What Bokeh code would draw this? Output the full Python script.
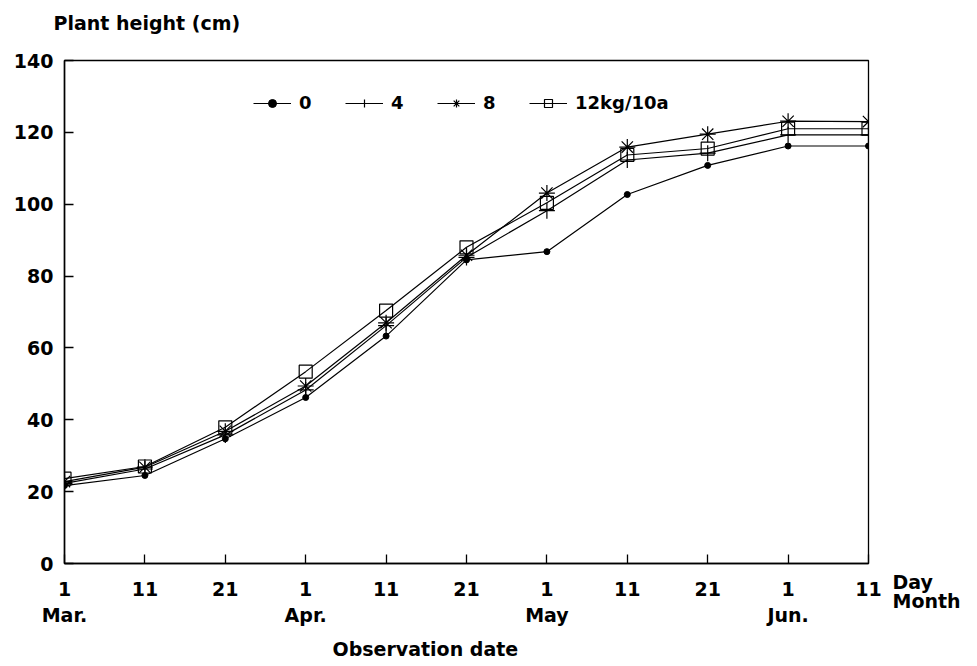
from bokeh.plotting import figure
from bokeh.models import Range1d, Legend, LegendItem, FixedTicker, Title, LinearAxis
from bokeh.embed import file_html
from bokeh.resources import INLINE

# --- data ---
day_idx = [0, 1, 2, 3, 4, 5, 6, 7, 8, 9, 10]
day_labels = ["1\nMar.", "11", "21", "1\nApr.", "11", "21", "1\nMay", "11", "21", "1\nJun.", "11"]
n0 = [21.7, 24.5, 34.7, 46.2, 63.3, 84.5, 86.8, 102.7, 110.8, 116.2, 116.2]
n4 = [22.3, 26.3, 35.8, 48.3, 66.2, 85.2, 98.2, 112.3, 114.2, 119.3, 119.3]
n8 = [22.8, 26.8, 36.8, 49.4, 67.0, 85.8, 103.1, 115.9, 119.5, 123.1, 123.0]
n12 = [23.6, 27.0, 37.9, 53.4, 70.4, 88.0, 100.4, 113.7, 115.5, 121.0, 121.0]
y_ticks = [0, 20, 40, 60, 80, 100, 120, 140]
legend_labels = ["0", "4", "8", "12kg/10a"]

FONT = "DejaVu Sans"

p = figure(width=977, height=666, output_backend="svg", toolbar_location=None,
           x_range=Range1d(0, 10), y_range=Range1d(0, 140),
           min_border_left=64, min_border_right=109, min_border_top=60, min_border_bottom=103)
p.grid.visible = False
p.outline_line_color = "black"
p.outline_line_width = 1.3
p.background_fill_color = "white"
p.border_fill_color = "white"

for ax in (p.xaxis[0], p.yaxis[0]):
    ax.axis_line_width = 1.5
    ax.axis_line_color = "black"
    ax.major_tick_in = 9
    ax.major_tick_out = 0
    ax.minor_tick_in = 0
    ax.minor_tick_out = 0
    ax.major_tick_line_width = 1.3
    ax.major_label_text_font = FONT
    ax.major_label_text_font_style = "bold"
    ax.major_label_text_font_size = "19px"
    ax.major_label_text_color = "black"

p.yaxis.ticker = FixedTicker(ticks=y_ticks)
p.yaxis.major_label_standoff = 11
p.xaxis.ticker = FixedTicker(ticks=day_idx)
p.xaxis.major_label_overrides = {i: s for i, s in zip(day_idx, day_labels)}
p.xaxis.major_label_standoff = 14

# "Day / Month" captions to the right of the last date tick
rax = LinearAxis(ticker=FixedTicker(ticks=[0]),
                 major_label_overrides={0: " \n \n \nDay\nMonth"})
rax.axis_line_color = None
rax.major_tick_line_color = None
rax.minor_tick_line_color = None
rax.major_label_standoff = 18
rax.major_label_text_font = FONT
rax.major_label_text_font_style = "bold"
rax.major_label_text_font_size = "19px"
rax.major_label_text_line_height = 0.85
rax.major_label_text_color = "black"
p.add_layout(rax, "right")

lw = 1.2
r0l = p.line(day_idx, n0, line_color="black", line_width=lw)
r0m = p.scatter(day_idx, n0, marker="circle", size=6, color="black")
r4l = p.line(day_idx, n4, line_color="black", line_width=lw)
r4m = p.scatter(day_idx, n4, marker="cross", size=16, line_color="black", line_width=1.2)
r8l = p.line(day_idx, n8, line_color="black", line_width=lw)
r8m = p.scatter(day_idx, n8, marker="asterisk", size=16, line_color="black", line_width=1.2)
r12l = p.line(day_idx, n12, line_color="black", line_width=lw)
r12m = p.scatter(day_idx, n12, marker="square", size=13, line_color="black", fill_alpha=0, line_width=1.2)

legend = Legend(items=[
    LegendItem(label=legend_labels[0], renderers=[r0l, r0m]),
    LegendItem(label=legend_labels[1], renderers=[r4l, r4m]),
    LegendItem(label=legend_labels[2], renderers=[r8l, r8m]),
    LegendItem(label=legend_labels[3], renderers=[r12l, r12m]),
], orientation="horizontal", location=(189, 450))
legend.border_line_alpha = 0
legend.background_fill_alpha = 0
legend.padding = 0
legend.margin = 0
legend.glyph_width = 38
legend.glyph_height = 20
legend.label_standoff = 8
legend.label_width = 38
legend.spacing = 8
legend.label_text_font = FONT
legend.label_text_font_style = "bold"
legend.label_text_font_size = "18px"
legend.label_text_color = "black"
p.add_layout(legend, "center")

p.add_layout(Title(text="Plant height (cm)\n ", align="left", offset=-11, standoff=10,
                   text_font=FONT, text_font_style="bold", text_font_size="19px",
                   text_color="black"), "above")
p.add_layout(Title(text="Observation date", align="left", offset=268, standoff=14,
                   text_font=FONT, text_font_style="bold", text_font_size="19px",
                   text_color="black"), "below")

open("out.html", "w").write(file_html(p, INLINE))
